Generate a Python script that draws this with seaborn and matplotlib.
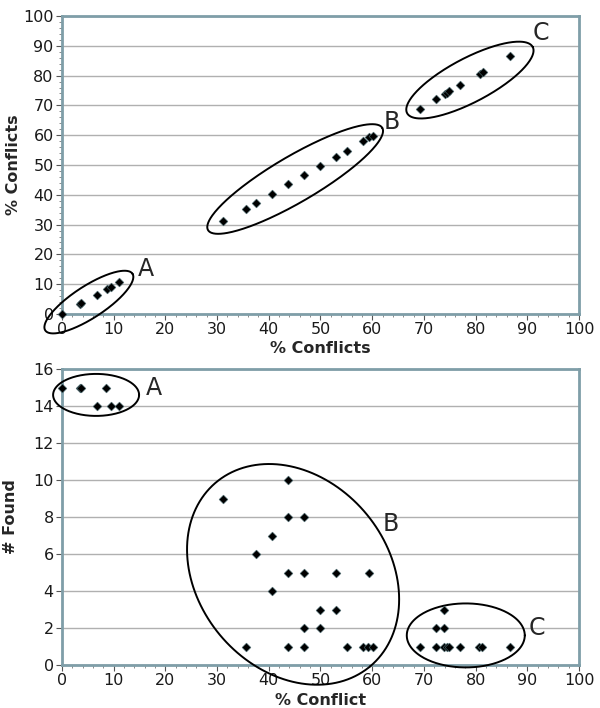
import numpy as np
import pandas as pd
import matplotlib
matplotlib.use("Agg")
import matplotlib.pyplot as plt
from matplotlib.ticker import MultipleLocator
import seaborn as sns

# top panel: % conflicts vs % conflicts
top_x = [0, 3.4, 3.7, 6.8, 8.7, 9.4, 11.1,
         31.2, 35.5, 37.5, 40.6, 43.8, 46.9, 50.0, 53.0, 55.1, 58.2, 59.3, 60.1,
         69.2, 72.4, 74.0, 74.4, 74.9, 77.0, 80.8, 81.5, 86.7]
top_y = [0, 3.3, 3.6, 6.5, 8.3, 9.0, 10.7,
         31.2, 35.2, 37.3, 40.4, 43.6, 46.6, 49.8, 52.8, 54.8, 58.0, 59.3, 59.7,
         68.9, 72.1, 73.7, 74.3, 74.7, 76.8, 80.4, 81.3, 86.6]

# bottom panel: % conflict vs # found
found_x = [0, 3.4, 3.7, 8.6, 6.8, 9.4, 11.1,
           31.2, 43.8, 43.8, 46.9, 40.6, 37.5, 43.8, 46.9, 53.0, 59.4, 40.6,
           50.0, 53.0, 46.9, 50.0, 35.5, 43.8, 46.9, 55.1, 58.2, 59.2, 60.1,
           69.2, 72.4, 73.9, 74.4, 74.9, 76.9, 80.6, 81.3, 86.7, 72.4, 73.9, 73.9]
found_y = [15, 15, 15, 15, 14, 14, 14,
           9, 10, 8, 8, 7, 6, 5, 5, 5, 5, 4,
           3, 3, 2, 2, 1, 1, 1, 1, 1, 1, 1,
           1, 1, 1, 1, 1, 1, 1, 1, 1, 2, 2, 3]

labels = ["A", "B", "C"]

W, H, DPI = 6.0, 7.08, 100
fig = plt.figure(figsize=(W, H), dpi=DPI)
sns.set_style("white")
plt.rcParams["font.family"] = ["DejaVu Sans"]

spine_col = "#7f9ea8"
grid_col = "#b0b0b0"


def style_axes(ax, ymax, ystep, yminor):
    ax.set_xlim(0, 100)
    ax.set_ylim(0, ymax)
    ax.xaxis.set_major_locator(MultipleLocator(10))
    ax.xaxis.set_minor_locator(MultipleLocator(2))
    ax.yaxis.set_major_locator(MultipleLocator(ystep))
    if yminor:
        ax.yaxis.set_minor_locator(MultipleLocator(yminor))
    ax.grid(axis="y", color=grid_col, lw=1)
    ax.grid(axis="x", visible=False)
    ax.set_axisbelow(True)
    for s in ax.spines.values():
        s.set_visible(True)
        s.set_color(spine_col)
        s.set_linewidth(2)
    ax.tick_params(which="major", direction="out", length=4, width=0.8,
                   color="#555555", labelsize=11.5, labelcolor="#1a1a1a",
                   pad=2, bottom=True, left=True)
    ax.tick_params(which="minor", direction="out", length=2, width=0.6,
                   color="#777777", bottom=True, left=True)


def ellipse(ax, cx, cy, a, b, ang):
    # a, b in pixels, ang in degrees (screen, counter-clockwise)
    bb = ax.get_position()
    x0, x1 = ax.get_xlim()
    y0, y1 = ax.get_ylim()
    sx = bb.width * W * DPI / (x1 - x0)
    sy = bb.height * H * DPI / (y1 - y0)
    t = np.linspace(0, 2 * np.pi, 300)
    th = np.radians(ang)
    dx = a * np.cos(t) * np.cos(th) - b * np.sin(t) * np.sin(th)
    dy = a * np.cos(t) * np.sin(th) + b * np.sin(t) * np.cos(th)
    ax.plot(cx + dx / sx, cy + dy / sy, color="black", lw=1.4,
            clip_on=False, zorder=4)


ax1 = fig.add_axes([0.1033, 0.5565, 0.8617, 0.4209])
df1 = pd.DataFrame({"x": top_x, "y": top_y})
sns.scatterplot(data=df1, x="x", y="y", ax=ax1, marker="D", color="black",
                s=20, edgecolor="#4a6a70", linewidth=0.4, zorder=5, clip_on=False)
style_axes(ax1, 100, 10, 2)
ax1.set_xlabel("% Conflicts", fontsize=11.5, fontweight="bold", labelpad=3)
ax1.set_ylabel("% Conflicts", fontsize=11.5, fontweight="bold")
ax1.yaxis.set_label_coords(-0.079, 0.5)

ellipse(ax1, 5.2, 4.0, 52, 16, 33)
ellipse(ax1, 45.1, 45.3, 101, 23, 30.4)
ellipse(ax1, 78.9, 78.5, 71, 22, 27.8)
for lab, (tx, ty) in zip(labels, [(16.2, 15.1), (63.8, 64.4), (92.6, 94.3)]):
    ax1.text(tx, ty, lab, fontsize=17, ha="center", va="center")

ax2 = fig.add_axes([0.1033, 0.0607, 0.8617, 0.4181])
df2 = pd.DataFrame({"x": found_x, "y": found_y})
sns.scatterplot(data=df2, x="x", y="y", ax=ax2, marker="D", color="black",
                s=20, edgecolor="#4a6a70", linewidth=0.4, zorder=5, clip_on=False)
style_axes(ax2, 16, 2, None)
ax2.set_xlabel("% Conflict", fontsize=11.5, fontweight="bold", labelpad=3)
ax2.set_ylabel("# Found", fontsize=11.5, fontweight="bold")
ax2.yaxis.set_label_coords(-0.085, 0.5)

ellipse(ax2, 6.6, 14.6, 43, 21, 0)
ellipse(ax2, 44.7, 4.9, 120, 95, -50)
ellipse(ax2, 78.1, 1.6, 59, 32, 0)
for lab, (tx, ty) in zip(labels, [(17.8, 15.0), (63.6, 7.6), (91.9, 2.0)]):
    ax2.text(tx, ty, lab, fontsize=17, ha="center", va="center")

fig.savefig("out.png", dpi=DPI)
